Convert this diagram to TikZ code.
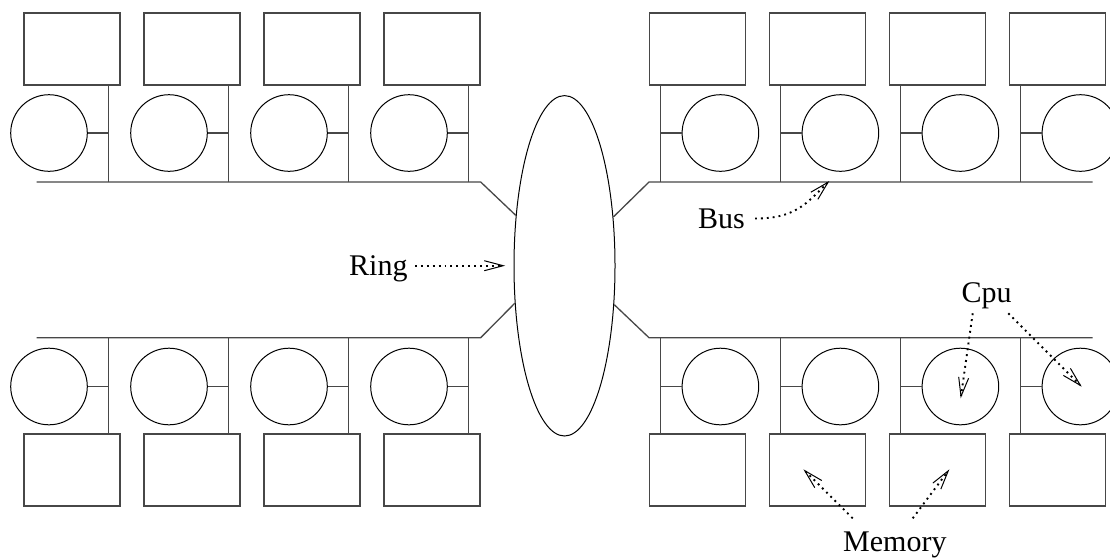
\documentclass[tikz,border=0pt]{standalone}
\usepackage{fontspec}
\setmainfont{Liberation Serif}
\usetikzlibrary{shapes.geometric,arrows.meta,calc}

\tikzset{
  wire/.style={draw=black!72, line width=1.3pt},
  membox/.style={rectangle, draw=black!72, line width=1.3pt, minimum width=96pt, minimum height=72pt, inner sep=0pt},
  cpu/.style={circle, draw=black, line width=1pt, minimum size=76.6pt, inner sep=0pt},
  ringshape/.style={ellipse, draw=black, line width=1pt, minimum width=101pt, minimum height=340.4pt, inner sep=0pt},
  lbl/.style={inner sep=0pt, anchor=base west, font=\fontsize{30}{36}\selectfont},
  note/.style={line width=1.9pt, dash pattern=on 1.9pt off 4pt,
    -{Straight Barb[length=19pt, width=10pt, line width=1pt]}},
}

\begin{document}
\begin{tikzpicture}[x=1pt, y=-1pt]
  \useasboundingbox (0,0) rectangle (1110,558);
  \clip (0,0) rectangle (1110,558);

  % the ring joining the four clusters
  \node[ringshape] (ring) at (564.5,265.8) {};

  % four clusters: name / first tap x / side / bus y / cpu y / memory y / memory side / cpu side
  \foreach \g/\x/\s/\yb/\yc/\ym/\ms/\cs in {
      TL/108.7/-1/182/133/49/south/east,
      TR/660.7/1/182/133/49/south/west,
      BL/108.7/-1/337.7/386.5/470/north/east,
      BR/660.7/1/337.7/386.5/470/north/west}{
    \foreach \i in {0,...,3}{
      \pgfmathsetmacro\t{\x+120*\i}
      \pgfmathsetmacro\mx{\t+\s*36.7}
      \pgfmathsetmacro\cx{\t+\s*59.7}
      \coordinate (\g-tap-\i) at (\t,\yb);
      \node[membox] (\g-mem-\i) at (\mx,\ym) {};
      \node[cpu] (\g-cpu-\i) at (\cx,\yc) {};
      \draw[wire] (\g-tap-\i) -- (\g-tap-\i |- \g-mem-\i.\ms);
      \draw[wire] (\g-cpu-\i.\cs) -- (\g-cpu-\i.\cs -| \g-tap-\i);
    }
  }

  % buses and their links to the ring
  \coordinate (TL-a) at (36.7,182);    \coordinate (TL-b) at (480.7,182);
  \coordinate (TR-a) at (1092.7,182);  \coordinate (TR-b) at (649,182);
  \coordinate (BL-a) at (36.7,337.7);  \coordinate (BL-b) at (480.7,337.7);
  \coordinate (BR-a) at (1092.7,337.7);\coordinate (BR-b) at (649,337.7);
  \draw[wire] (TL-a) -- (TL-b) -- (ring.134.6);
  \draw[wire] (TR-a) -- (TR-b) -- (ring.45.4);
  \draw[wire] (BL-a) -- (BL-b) -- (ring.217.3);
  \draw[wire] (BR-a) -- (BR-b) -- (ring.322.7);

  % labels
  \node[lbl] (ringlbl) at (349,275) {Ring};
  \node[lbl] (buslbl) at (698,228.3) {Bus};
  \node[lbl] (cpulbl) at (961.5,302) {Cpu};
  \node[lbl] (memlbl) at (843,551) {Memory};

  % pointers
  \draw[note, shorten >=8.3pt] ($(ringlbl.base west)+(66,-9.3)$) -- (ring.west |- 0,265.7);
  \draw[note] ($(buslbl.base west)+(57,-9.8)$)
    .. controls (795,218.5) and (806,204) .. ($(TR-tap-1)+(48.6,-1)$);
  \draw[note] ($(cpulbl.base west)+(11.2,11.3)$) -- ($(BR-cpu-2.center)+(0.3,11.8)$);
  \draw[note] ($(cpulbl.base west)+(46.8,11.3)$) -- ($(BR-cpu-3.center)+(1.3,0.2)$);
  \draw[note] ($(memlbl.base west)+(9.7,-32.7)$) -- ($(BR-mem-1.center)+(-14,-0.7)$);
  \draw[note] ($(memlbl.base west)+(69.7,-32.7)$) -- ($(BR-mem-2.center)+(12,-0.7)$);
\end{tikzpicture}
\end{document}
